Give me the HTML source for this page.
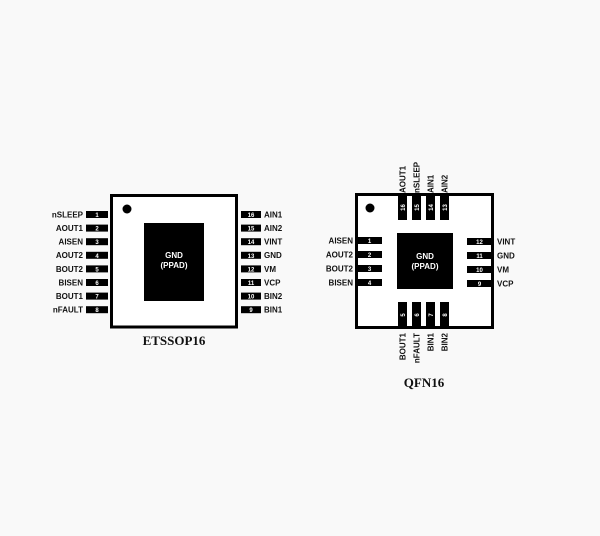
<!DOCTYPE html>
<html><head><style>
html,body{margin:0;padding:0;background:#f9f9f9;}
svg{display:block;}
.l{font-family:"Liberation Sans",sans-serif;font-weight:bold;font-size:8px;fill:#111;}
.n{font-family:"Liberation Sans",sans-serif;font-weight:bold;font-size:6px;fill:#fff;}
.t{font-family:"Liberation Serif",serif;font-weight:bold;font-size:13px;fill:#111;}
.p{font-family:"Liberation Sans",sans-serif;font-weight:bold;font-size:8px;fill:#fff;}
</style></head><body>
<svg width="600" height="536" viewBox="0 0 600 536">
<!-- ETSSOP16 -->
<rect x="111.5" y="195.5" width="125" height="131.5" fill="#fff" stroke="#000" stroke-width="3"/>
<circle cx="127" cy="209" r="4.5" fill="#000"/>
<rect x="144" y="223" width="60" height="78" fill="#000"/>
<text class="p" x="174" y="258" text-anchor="middle">GND</text>
<text class="p" x="174" y="268" text-anchor="middle">(PPAD)</text>
<g id="ls">
<rect x="86" y="211" width="22" height="7" fill="#000"/><text class="n" x="97" y="217" text-anchor="middle">1</text><text class="l" x="83" y="217.5" text-anchor="end">nSLEEP</text>
<rect x="86" y="224.6" width="22" height="7" fill="#000"/><text class="n" x="97" y="230.6" text-anchor="middle">2</text><text class="l" x="83" y="231" text-anchor="end">AOUT1</text>
<rect x="86" y="238.2" width="22" height="7" fill="#000"/><text class="n" x="97" y="244.2" text-anchor="middle">3</text><text class="l" x="83" y="244.6" text-anchor="end">AISEN</text>
<rect x="86" y="251.8" width="22" height="7" fill="#000"/><text class="n" x="97" y="257.8" text-anchor="middle">4</text><text class="l" x="83" y="258.2" text-anchor="end">AOUT2</text>
<rect x="86" y="265.4" width="22" height="7" fill="#000"/><text class="n" x="97" y="271.4" text-anchor="middle">5</text><text class="l" x="83" y="271.8" text-anchor="end">BOUT2</text>
<rect x="86" y="279" width="22" height="7" fill="#000"/><text class="n" x="97" y="285" text-anchor="middle">6</text><text class="l" x="83" y="285.4" text-anchor="end">BISEN</text>
<rect x="86" y="292.6" width="22" height="7" fill="#000"/><text class="n" x="97" y="298.6" text-anchor="middle">7</text><text class="l" x="83" y="299" text-anchor="end">BOUT1</text>
<rect x="86" y="306.2" width="22" height="7" fill="#000"/><text class="n" x="97" y="312.2" text-anchor="middle">8</text><text class="l" x="83" y="312.6" text-anchor="end">nFAULT</text>
</g>
<rect x="241" y="211" width="20" height="7" fill="#000"/><text class="n" x="251" y="217" text-anchor="middle">16</text><text class="l" x="264" y="217.5">AIN1</text>
<rect x="241" y="224.6" width="20" height="7" fill="#000"/><text class="n" x="251" y="230.6" text-anchor="middle">15</text><text class="l" x="264" y="231">AIN2</text>
<rect x="241" y="238.2" width="20" height="7" fill="#000"/><text class="n" x="251" y="244.2" text-anchor="middle">14</text><text class="l" x="264" y="244.6">VINT</text>
<rect x="241" y="251.8" width="20" height="7" fill="#000"/><text class="n" x="251" y="257.8" text-anchor="middle">13</text><text class="l" x="264" y="258.2">GND</text>
<rect x="241" y="265.4" width="20" height="7" fill="#000"/><text class="n" x="251" y="271.4" text-anchor="middle">12</text><text class="l" x="264" y="271.8">VM</text>
<rect x="241" y="279" width="20" height="7" fill="#000"/><text class="n" x="251" y="285" text-anchor="middle">11</text><text class="l" x="264" y="285.4">VCP</text>
<rect x="241" y="292.6" width="20" height="7" fill="#000"/><text class="n" x="251" y="298.6" text-anchor="middle">10</text><text class="l" x="264" y="299">BIN2</text>
<rect x="241" y="306.2" width="20" height="7" fill="#000"/><text class="n" x="251" y="312.2" text-anchor="middle">9</text><text class="l" x="264" y="312.6">BIN1</text>
<text class="t" x="174" y="345" text-anchor="middle">ETSSOP16</text>

<!-- QFN16 -->
<rect x="356.5" y="194.5" width="136" height="133" fill="#fff" stroke="#000" stroke-width="3"/>
<circle cx="370" cy="208" r="4.5" fill="#000"/>
<rect x="397" y="233" width="56" height="56" fill="#000"/>
<text class="p" x="425" y="259" text-anchor="middle">GND</text>
<text class="p" x="425" y="269" text-anchor="middle">(PPAD)</text>
<rect x="357" y="237" width="25" height="7" fill="#000"/><text class="n" x="369.5" y="243" text-anchor="middle">1</text><text class="l" x="353" y="243.5" text-anchor="end">AISEN</text>
<rect x="357" y="251" width="25" height="7" fill="#000"/><text class="n" x="369.5" y="257" text-anchor="middle">2</text><text class="l" x="353" y="257.5" text-anchor="end">AOUT2</text>
<rect x="357" y="265" width="25" height="7" fill="#000"/><text class="n" x="369.5" y="271" text-anchor="middle">3</text><text class="l" x="353" y="271.5" text-anchor="end">BOUT2</text>
<rect x="357" y="279" width="25" height="7" fill="#000"/><text class="n" x="369.5" y="285" text-anchor="middle">4</text><text class="l" x="353" y="285.5" text-anchor="end">BISEN</text>
<rect x="467" y="238" width="25" height="7" fill="#000"/><text class="n" x="479.5" y="244" text-anchor="middle">12</text><text class="l" x="497" y="244.5">VINT</text>
<rect x="467" y="252" width="25" height="7" fill="#000"/><text class="n" x="479.5" y="258" text-anchor="middle">11</text><text class="l" x="497" y="258.5">GND</text>
<rect x="467" y="266" width="25" height="7" fill="#000"/><text class="n" x="479.5" y="272" text-anchor="middle">10</text><text class="l" x="497" y="272.5">VM</text>
<rect x="467" y="280" width="25" height="7" fill="#000"/><text class="n" x="479.5" y="286" text-anchor="middle">9</text><text class="l" x="497" y="286.5">VCP</text>
<!-- top pins -->
<rect x="398" y="195" width="9" height="25" fill="#000"/><text class="n" transform="translate(405,207.5) rotate(-90)" text-anchor="middle">16</text><text class="l" transform="translate(405.5,193) rotate(-90)">AOUT1</text>
<rect x="412" y="195" width="9" height="25" fill="#000"/><text class="n" transform="translate(419,207.5) rotate(-90)" text-anchor="middle">15</text><text class="l" transform="translate(419.5,193) rotate(-90)">nSLEEP</text>
<rect x="426" y="195" width="9" height="25" fill="#000"/><text class="n" transform="translate(433,207.5) rotate(-90)" text-anchor="middle">14</text><text class="l" transform="translate(433.5,193) rotate(-90)">AIN1</text>
<rect x="440" y="195" width="9" height="25" fill="#000"/><text class="n" transform="translate(447,207.5) rotate(-90)" text-anchor="middle">13</text><text class="l" transform="translate(447.5,193) rotate(-90)">AIN2</text>
<!-- bottom pins -->
<rect x="398" y="302" width="9" height="25" fill="#000"/><text class="n" transform="translate(405,315) rotate(-90)" text-anchor="middle">5</text><text class="l" transform="translate(405.5,333) rotate(-90)" text-anchor="end">BOUT1</text>
<rect x="412" y="302" width="9" height="25" fill="#000"/><text class="n" transform="translate(419,315) rotate(-90)" text-anchor="middle">6</text><text class="l" transform="translate(419.5,333) rotate(-90)" text-anchor="end">nFAULT</text>
<rect x="426" y="302" width="9" height="25" fill="#000"/><text class="n" transform="translate(433,315) rotate(-90)" text-anchor="middle">7</text><text class="l" transform="translate(433.5,333) rotate(-90)" text-anchor="end">BIN1</text>
<rect x="440" y="302" width="9" height="25" fill="#000"/><text class="n" transform="translate(447,315) rotate(-90)" text-anchor="middle">8</text><text class="l" transform="translate(447.5,333) rotate(-90)" text-anchor="end">BIN2</text>
<text class="t" x="424" y="387" text-anchor="middle">QFN16</text>
</svg>
</body></html>
